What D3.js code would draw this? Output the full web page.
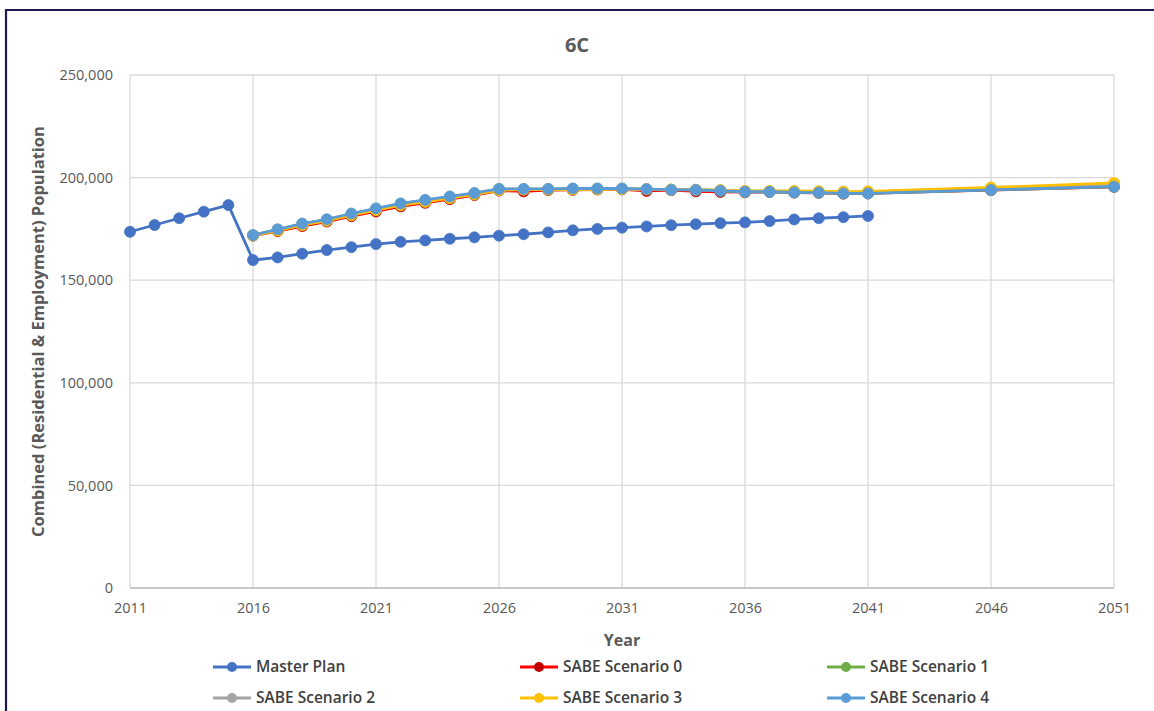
<!DOCTYPE html>
<html>
<head>
<meta charset="utf-8">
<script src="https://cdn.jsdelivr.net/npm/d3@7"></script>
<style>
  html, body { margin: 0; padding: 0; background: #ffffff; }
  svg { display: block; }
  text { font-family: "Open Sans", "Liberation Sans", sans-serif; }
</style>
</head>
<body>
<svg id="chart" width="1154" height="711"></svg>
<script>
// Population series: combined residential & employment
const masterYears = [2011, 2012, 2013, 2014, 2015, 2016, 2017, 2018, 2019, 2020,
  2021, 2022, 2023, 2024, 2025, 2026, 2027, 2028, 2029, 2030,
  2031, 2032, 2033, 2034, 2035, 2036, 2037, 2038, 2039, 2040, 2041];
const masterPlan = [173600, 176900, 180200, 183400, 186600, 159800, 161100, 162900, 164700, 166100,
  167600, 168700, 169400, 170200, 170900, 171700, 172400, 173300, 174300, 175000,
  175600, 176200, 176800, 177300, 177800, 178200, 178800, 179600, 180200, 180700, 181300];

const scenarioYears = [2016, 2017, 2018, 2019, 2020, 2021, 2022, 2023, 2024, 2025,
  2026, 2027, 2028, 2029, 2030, 2031, 2032, 2033, 2034, 2035,
  2036, 2037, 2038, 2039, 2040, 2041, 2046, 2051];
const sabe0 = [171700, 173900, 176400, 178600, 181200, 183500, 186000, 187700, 189500, 191500,
  193700, 193300, 193900, 194000, 194200, 194300, 193500, 193900, 193300, 193000,
  192900, 193000, 192700, 192600, 192200, 192300, 193900, 195500];
const sabe1 = [171900, 174600, 177400, 179500, 182300, 184800, 187200, 188900, 190600, 192300,
  194400, 194400, 194400, 194600, 194600, 194600, 194300, 194100, 194000, 193600,
  193100, 193100, 192800, 192700, 192300, 192300, 194000, 195600];
const sabe2 = [171800, 174300, 177000, 179100, 181800, 184200, 186700, 188300, 190100, 191900,
  194000, 194200, 194200, 194300, 194400, 194500, 194300, 194100, 194000, 193800,
  193400, 193400, 193300, 193200, 193000, 193000, 194800, 196900];
const sabe3 = [171800, 174200, 176900, 179000, 181700, 184100, 186600, 188200, 190000, 191800,
  193900, 194100, 194100, 194200, 194300, 194400, 194300, 194200, 194100, 193900,
  193500, 193500, 193500, 193400, 193200, 193300, 195200, 197400];
const sabe4 = [172000, 174800, 177600, 179700, 182500, 185000, 187400, 189100, 190800, 192500,
  194500, 194500, 194500, 194700, 194700, 194700, 194400, 194100, 194000, 193600,
  193100, 193100, 192800, 192700, 192300, 192300, 194000, 195600];

const seriesNames = ["Master Plan", "SABE Scenario 0", "SABE Scenario 1",
  "SABE Scenario 2", "SABE Scenario 3", "SABE Scenario 4"];
const lineColors = ["#4472C4", "#FF0000", "#70AD47", "#A5A5A5", "#FFC000", "#5B9BD5"];
const markerColors = ["#4472C4", "#C00000", "#70AD47", "#A5A5A5", "#FFC000", "#5B9BD5"];

const yTicks = [0, 50000, 100000, 150000, 200000, 250000];
const xTicks = [2011, 2016, 2021, 2026, 2031, 2036, 2041, 2046, 2051];

const series = [
  { years: masterYears, values: masterPlan },
  { years: scenarioYears, values: sabe0 },
  { years: scenarioYears, values: sabe1 },
  { years: scenarioYears, values: sabe2 },
  { years: scenarioYears, values: sabe3 },
  { years: scenarioYears, values: sabe4 }
].map((s, i) => ({
  name: seriesNames[i],
  line: lineColors[i],
  marker: markerColors[i],
  points: s.years.map((yr, j) => ({ year: yr, value: s.values[j] }))
}));

const svg = d3.select("#chart");
const plot = { left: 130, right: 1114, top: 75, bottom: 588 };

const x = d3.scaleLinear().domain([2011, 2051]).range([plot.left, plot.right]);
const y = d3.scaleLinear().domain([0, 250000]).range([plot.bottom, plot.top]);

// Outer frame (left and top edges visible)
svg.append("path")
  .attr("d", "M6,720 L6,10 L1160,10")
  .attr("fill", "none")
  .attr("stroke", "#1d1a52")
  .attr("stroke-width", 2.2);

// Gridlines
const grid = svg.append("g");
grid.selectAll("line.h").data(yTicks).join("line")
  .attr("x1", plot.left).attr("x2", plot.right)
  .attr("y1", d => y(d)).attr("y2", d => y(d))
  .attr("stroke", "#d9d9d9").attr("stroke-width", 1.3);
grid.selectAll("line.v").data(xTicks).join("line")
  .attr("x1", d => x(d)).attr("x2", d => x(d))
  .attr("y1", plot.top).attr("y2", plot.bottom)
  .attr("stroke", "#d9d9d9").attr("stroke-width", 1.3);

// Axes (labels only, lines drawn as gridlines)
const fmt = d3.format(",");
const yAxis = svg.append("g")
  .attr("transform", `translate(${plot.left},0)`)
  .call(d3.axisLeft(y).tickValues(yTicks).tickFormat(d => fmt(d)).tickSize(0).tickPadding(17));
const xAxis = svg.append("g")
  .attr("transform", `translate(0,${plot.bottom})`)
  .call(d3.axisBottom(x).tickValues(xTicks).tickFormat(d3.format("d")).tickSize(0).tickPadding(15));
[yAxis, xAxis].forEach(g => {
  g.select(".domain").remove();
  g.selectAll("text")
    .attr("fill", "#595959")
    .style("font-size", "14.5px")
    .style("font-family", "'Open Sans', 'Liberation Sans', sans-serif");
});
svg.append("line")
  .attr("x1", plot.left).attr("x2", plot.right)
  .attr("y1", plot.bottom).attr("y2", plot.bottom)
  .attr("stroke", "#bfbfbf").attr("stroke-width", 1.3);

// Series lines and markers
const lineGen = d3.line().x(d => x(d.year)).y(d => y(d.value));
series.forEach(s => {
  const g = svg.append("g");
  g.append("path")
    .datum(s.points)
    .attr("d", lineGen)
    .attr("fill", "none")
    .attr("stroke", s.line)
    .attr("stroke-width", 2.8)
    .attr("stroke-linejoin", "round");
  g.selectAll("circle").data(s.points).join("circle")
    .attr("cx", d => x(d.year))
    .attr("cy", d => y(d.value))
    .attr("r", 5.5)
    .attr("fill", s.marker)
    .attr("stroke", s.marker)
    .attr("stroke-width", 0.8);
});

// Titles
svg.append("text")
  .attr("x", 577).attr("y", 52)
  .attr("text-anchor", "middle")
  .attr("fill", "#595959")
  .style("font-size", "20px").style("font-weight", "700")
  .text("6C");

svg.append("text")
  .attr("transform", `translate(44,${(plot.top + plot.bottom) / 2 + 0}) rotate(-90)`)
  .attr("text-anchor", "middle")
  .attr("fill", "#595959")
  .style("font-size", "16.5px").style("font-weight", "700")
  .text("Combined (Residential & Employment) Population");

svg.append("text")
  .attr("x", 622).attr("y", 646)
  .attr("text-anchor", "middle")
  .attr("fill", "#595959")
  .style("font-size", "16px").style("font-weight", "700")
  .text("Year");

// Legend: three columns, two rows
const legendCols = [213, 520, 827];
const legendRows = [667, 698];
const legend = svg.append("g");
series.forEach((s, i) => {
  const lx = legendCols[i % 3];
  const ly = legendRows[Math.floor(i / 3)];
  const g = legend.append("g").attr("transform", `translate(${lx},${ly})`);
  g.append("line").attr("x1", 0).attr("x2", 38).attr("y1", 0).attr("y2", 0)
    .attr("stroke", s.line).attr("stroke-width", 2.8);
  g.append("circle").attr("cx", 19).attr("cy", 0).attr("r", 5)
    .attr("fill", s.marker);
  g.append("text").attr("x", 43).attr("y", 0).attr("dy", "0.35em")
    .attr("fill", "#404040")
    .style("font-size", "15.5px").style("font-weight", "600")
    .text(s.name);
});
</script>
</body>
</html>
